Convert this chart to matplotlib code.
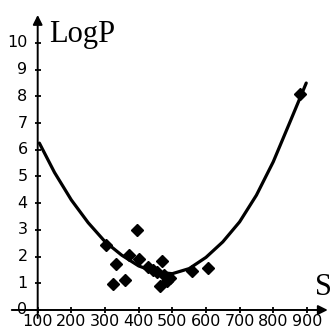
import numpy as np
import matplotlib.pyplot as plt

# scatter points
s_pts = [303, 396, 333, 325, 360, 370, 402, 429, 444, 455, 469, 474, 464, 485, 492, 558, 606, 878]
logp_pts = [2.43, 3.0, 1.72, 0.97, 1.12, 2.05, 1.92, 1.62, 1.49, 1.42, 1.82, 1.31, 0.9, 1.08, 1.2, 1.45, 1.58, 8.1]

# fitted curve, read at intervals
curve_s = [105, 150, 200, 250, 300, 350, 400, 450, 500, 550, 600, 650, 700, 750, 800, 850, 898]
curve_logp = [6.25, 5.15, 4.12, 3.27, 2.56, 2.05, 1.65, 1.42, 1.36, 1.55, 1.97, 2.55, 3.3, 4.3, 5.55, 7.05, 8.5]

x_ticks = [100, 200, 300, 400, 500, 600, 700, 800, 900]
y_ticks = list(range(0, 11))

fig = plt.figure(figsize=(3.31, 3.36), dpi=100)
ax = fig.add_axes([0, 0, 1, 1])
ax.set_xlim(-12, 971.6)
ax.set_ylim(-0.974, 11.61)
ax.axis('off')

tick_font = dict(family=['Liberation Sans Narrow', 'DejaVu Sans'], fontsize=11.5)
label_font = dict(family=['Liberation Serif', 'DejaVu Serif'], fontsize=22)

# axes with arrows
ax.annotate('', xy=(962, 0), xytext=(23, 0),
            arrowprops=dict(arrowstyle='-|>', color='k', lw=1.4, mutation_scale=14, shrinkA=0, shrinkB=0))
ax.annotate('', xy=(100, 11.05), xytext=(100, -0.3),
            arrowprops=dict(arrowstyle='-|>', color='k', lw=1.4, mutation_scale=14, shrinkA=0, shrinkB=0))

# tick marks
ax.plot(x_ticks, [0] * len(x_ticks), ls='none', marker='|', ms=5, mew=1.3, color='k')
ax.plot([100] * len(y_ticks), y_ticks, ls='none', marker='_', ms=5, mew=1.3, color='k')

for t in x_ticks:
    ax.text(t, -0.14, str(t), ha='center', va='top', **tick_font)
for t in y_ticks:
    ax.text(70, t, str(t), ha='right', va='center', **tick_font)

ax.text(135, 10.05, 'LogP', ha='left', va='baseline', **label_font)
ax.text(925, 0.55, 'S', ha='left', va='baseline', **label_font)

ax.plot(curve_s, curve_logp, color='k', lw=2.3, solid_capstyle='round')
ax.plot(s_pts, logp_pts, ls='none', marker='D', ms=6, color='k')

fig.savefig('out.png', dpi=100)
